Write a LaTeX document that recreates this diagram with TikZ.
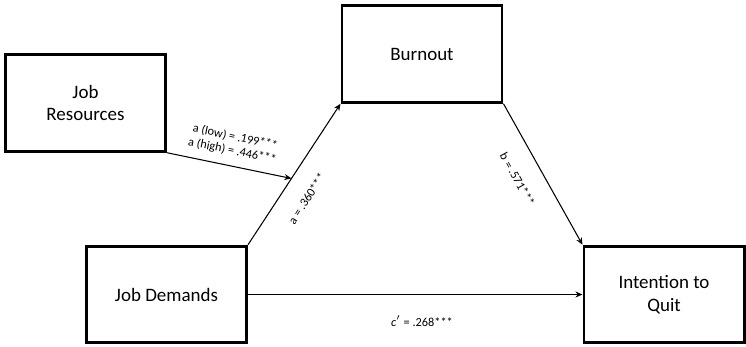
\documentclass[tikz,border=0pt]{standalone}
\usepackage{fontspec}
\setmainfont{Carlito}
\usetikzlibrary{arrows.meta,positioning,calc}

\begin{document}
\begin{tikzpicture}[>={Stealth[length=4pt,width=3.4pt]},
    box/.style={draw, line width=1.7pt, minimum width=3.2cm,
                minimum height=1.93cm, align=center,
                font=\fontsize{10.8}{13}\selectfont},
    arr/.style={->, line width=0.6pt},
    coef/.style={font=\fontsize{7}{8}\selectfont, sloped}]

  \useasboundingbox (0,0) rectangle (14.92,6.92);

  %% Boxes
  \node[box] (res)  at (1.71,4.86)  {Job\\Resources};
  \node[box] (burn) at (8.44,5.84)  {Burnout};
  \node[box] (dem)  at (3.33,1.03)  {Job Demands};
  \node[box] (quit) at (13.28,1.03) {Intention to\\Quit};

  %% Moderation point on the a-path
  \coordinate (mod) at ($(dem.north east)!0.47!(burn.south west)$);

  %% Paths
  \draw[arr] (dem.north east) -- (burn.south west)
    node[coef, pos=0.42, below=0.26cm] {a = .360***};
  \draw[arr] (res.south east) -- (mod)
    node[coef, midway, above=0.06cm, align=center]
      {a (low) = .199***\\a (high) = .446***};
  \draw[arr] (burn.south east) -- (quit.north west)
    node[coef, pos=0.45, below=0.28cm] {b = .571***};
  \draw[arr] (dem.east) -- (quit.west)
    node[coef, pos=0.52, below=0.3cm] {\textit{c}$'$ = .268***};

\end{tikzpicture}
\end{document}
